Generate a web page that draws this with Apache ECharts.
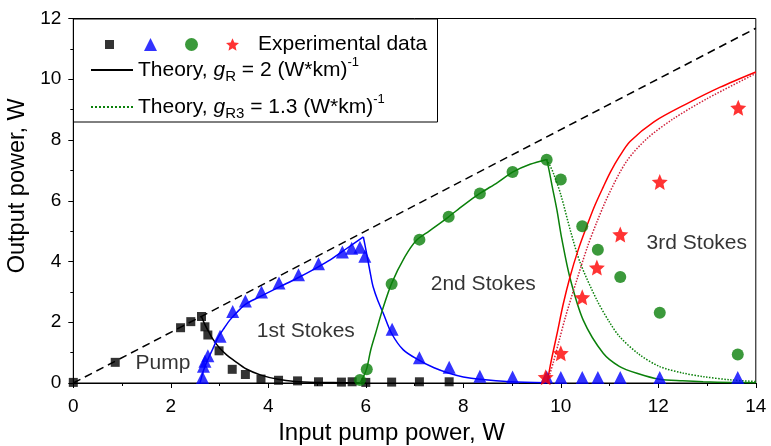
<!DOCTYPE html>
<html>
<head>
<meta charset="utf-8">
<script src="https://cdn.jsdelivr.net/npm/echarts@6/dist/echarts.min.js"></script>
<style>
  html, body { margin: 0; padding: 0; background: #fff; }
  #chart { width: 771px; height: 446px; }
</style>
</head>
<body>
<div id="chart"></div>
<script>
// experimental points
const pumpX = [0.0, 0.86, 2.20, 2.41, 2.63, 2.70, 2.76, 2.99, 3.26, 3.53, 3.85, 4.21, 4.60, 5.03, 5.50, 5.72, 6.00, 6.53, 7.10, 7.71];
const pumpY = [0.02, 0.68, 1.82, 2.02, 2.19, 1.85, 1.58, 1.06, 0.45, 0.28, 0.13, 0.09, 0.07, 0.04, 0.03, 0.04, 0.02, 0.03, 0.04, 0.04];

const s1X = [2.65, 2.67, 2.70, 2.76, 3.01, 3.27, 3.53, 3.86, 4.22, 4.62, 5.03, 5.52, 5.71, 5.88, 5.98, 6.54, 7.10, 7.71, 8.34, 9.01, 9.71, 10.0, 10.44, 10.76, 11.22, 12.03, 13.63];
const s1Y = [0.18, 0.55, 0.72, 0.90, 1.54, 2.35, 2.70, 3.00, 3.29, 3.56, 3.93, 4.31, 4.44, 4.47, 4.17, 1.77, 0.83, 0.52, 0.22, 0.2, 0.2, 0.18, 0.18, 0.18, 0.18, 0.18, 0.18];

const s2X = [5.88, 6.02, 6.53, 7.10, 7.70, 8.34, 9.01, 9.71, 10.0, 10.44, 10.76, 11.22, 12.03, 13.63];
const s2Y = [0.10, 0.45, 3.26, 4.72, 5.47, 6.24, 6.95, 7.35, 6.70, 5.16, 4.39, 3.49, 2.31, 0.94];

const s3X = [9.69, 10.0, 10.44, 10.74, 11.22, 12.03, 13.64];
const s3Y = [0.19, 0.98, 2.82, 3.80, 4.89, 6.62, 9.06];

// theory curves
const pumpThX = [2.63, 2.70, 2.78, 2.86, 3.0, 3.15, 3.3, 3.55, 3.85, 4.2, 4.55, 5.0, 5.5, 6.0];
const pumpThY = [2.19, 1.92, 1.68, 1.45, 1.15, 0.92, 0.74, 0.46, 0.26, 0.12, 0.05, 0.02, 0.01, 0.0];

const s1UpX = [2.60, 2.65, 2.70, 2.78, 2.86, 2.97, 3.1, 3.21, 3.4, 3.56, 3.9, 4.25, 4.58, 5.0, 5.27, 5.6, 5.95];
const s1UpY = [0, 0.3, 0.54, 0.85, 1.12, 1.5, 1.82, 2.07, 2.4, 2.62, 2.9, 3.18, 3.44, 3.8, 4.05, 4.42, 4.81];
const s1DownX = [5.95, 6.0, 6.05, 6.1, 6.15, 6.25, 6.36, 6.53, 6.77, 7.08, 7.4, 7.71, 8.0, 8.34, 8.96, 9.7];
const s1DownY = [4.81, 4.4, 3.98, 3.55, 3.17, 2.7, 2.29, 1.63, 1.09, 0.76, 0.5, 0.32, 0.2, 0.12, 0.04, 0.01];

const s2UpX = [5.88, 5.95, 6.02, 6.1, 6.2, 6.35, 6.53, 6.8, 7.04, 7.3, 7.7, 8.0, 8.34, 8.7, 9.02, 9.37, 9.71];
const s2UpY = [0, 0.2, 0.48, 1.08, 1.63, 2.45, 3.28, 4.15, 4.7, 5.0, 5.47, 5.85, 6.24, 6.6, 6.95, 7.2, 7.36];
const s2DownX = [9.71, 9.76, 9.82, 9.92, 10.02, 10.19, 10.46, 10.87, 11.2, 11.56, 12.03, 12.5, 12.92, 13.5, 14];
const s2DownY = [7.36, 7.0, 6.5, 5.7, 4.75, 3.45, 2.07, 0.98, 0.55, 0.32, 0.12, 0.07, 0.04, 0.02, 0.01];
const s2DotX = [9.71, 9.78, 9.85, 10.0, 10.2, 10.4, 10.74, 11.0, 11.21, 11.6, 12.03, 12.5, 12.92, 13.5, 14];
const s2DotY = [7.36, 7.15, 6.9, 6.2, 5.0, 3.95, 2.73, 2.0, 1.52, 0.95, 0.54, 0.33, 0.21, 0.1, 0.05];

const s3ThX = [9.72, 9.8, 9.92, 10.05, 10.19, 10.35, 10.53, 10.7, 10.87, 11.02, 11.2, 11.42, 11.91, 12.59, 13.27, 14];
const s3ThY = [0, 0.7, 1.6, 2.6, 3.5, 4.35, 5.15, 5.85, 6.45, 6.95, 7.45, 7.95, 8.6, 9.2, 9.74, 10.24];
const s3DotX = [9.72, 9.85, 9.95, 10.1, 10.33, 10.55, 10.74, 10.98, 11.35, 11.77, 12.32, 13.0, 14];
const s3DotY = [0, 0.7, 1.3, 2.2, 3.4, 4.5, 5.3, 6.2, 7.3, 8.05, 8.71, 9.36, 10.19];

// undepleted pump transmission (dashed)
const lossX = [0, 14];
const lossY = [0, 11.68];

// region captions
const regionNames = ["Pump", "1st Stokes", "2nd Stokes", "3rd Stokes"];
const regionX = [1.84, 4.77, 8.41, 12.79];
const regionY = [0.66, 1.69, 3.26, 4.6];

const xTicks = { min: 0, max: 14, interval: 2 };
const yTicks = { min: 0, max: 12, interval: 2 };

const zip = (xs, ys) => xs.map((x, i) => [x, ys[i]]);
const FONT = "Liberation Sans, Arial, sans-serif";
const STAR = "path://M50 0L63.52 31.39L97.55 34.55L71.88 57.11L79.39 90.45L50 73L20.61 90.45L28.12 57.11L2.45 34.55L36.48 31.39Z";
const SMALL_SQUARE = "path://M0 0M13 13M2 2h9v9h-9z";

const BLUE = "#0000ff", GREEN = "#0a800a", RED = "#ff0000";

const chart = echarts.init(document.getElementById("chart"));

const curve = (name, data, color, type) => ({
  name,
  type: "line",
  data,
  symbol: "none",
  smooth: 0.3,
  z: 2,
  lineStyle: { color, width: 1.5, type: type || "solid" },
  itemStyle: { color },
});

const rich = {
  n: { fontSize: 21, fontFamily: FONT, color: "#000", lineHeight: 28 },
  i: { fontSize: 21, fontFamily: FONT, color: "#000", fontStyle: "italic", lineHeight: 28 },
  s: { fontSize: 15, fontFamily: FONT, color: "#000", lineHeight: 15, verticalAlign: "bottom" },
  p: { fontSize: 13, fontFamily: FONT, color: "#000", lineHeight: 18, verticalAlign: "top" },
  t: { fontSize: 21, fontFamily: FONT, color: "#000", padding: [0, 0, 0, 14] },
};

chart.setOption({
  animation: false,
  backgroundColor: "#fff",
  textStyle: { fontFamily: FONT },
  grid: {
    left: 73.3, right: 15.2, top: 18.5, bottom: 63,
    outerBoundsMode: "none",
    show: true, borderColor: "#000", borderWidth: 1,
  },
  xAxis: {
    type: "value",
    ...xTicks,
    name: "Input pump power, W",
    nameLocation: "middle",
    nameGap: 33,
    nameTextStyle: { fontSize: 24, color: "#000", fontFamily: FONT, padding: [0, 46, 0, 0] },
    axisLine: { lineStyle: { color: "#000", width: 1 } },
    axisTick: { inside: false, length: 5, lineStyle: { color: "#000" } },
    minorTick: { show: true, splitNumber: 2, length: 3, lineStyle: { color: "#000" } },
    splitLine: { show: false },
    axisLabel: { fontSize: 19, color: "#000", margin: 14 },
  },
  yAxis: {
    type: "value",
    ...yTicks,
    name: "Output power, W",
    nameLocation: "middle",
    nameGap: 30,
    nameTextStyle: { fontSize: 23.5, color: "#000", fontFamily: FONT, padding: [0, 0, 0, 30] },
    axisLine: { show: true, lineStyle: { color: "#000", width: 1 } },
    axisTick: { show: true, inside: false, length: 5, lineStyle: { color: "#000" } },
    minorTick: { show: true, splitNumber: 2, length: 3, lineStyle: { color: "#000" } },
    splitLine: { show: false },
    axisLabel: { fontSize: 19, color: "#000", margin: 12 },
  },
  graphic: [
    {
      type: "rect",
      left: 73,
      top: 18.5,
      z: 3,
      shape: { width: 364, height: 103 },
      style: { fill: "#fff", stroke: "#000", lineWidth: 1 },
    },
  ],
  legend: [
    {
      data: [
        { name: "pump", icon: SMALL_SQUARE },
        { name: "stokes1", icon: "triangle" },
        { name: "stokes2", icon: "circle" },
        { name: "stokes3", icon: STAR },
      ],
      left: 103,
      top: 34,
      padding: 0,
      itemWidth: 13,
      itemHeight: 13,
      itemGap: 28,
      selectedMode: false,
      z: 5,
      formatter: (n) => (n === "stokes3" ? "{t|Experimental data}" : ""),
      textStyle: { rich },
    },
    {
      data: ["theory2", "theory13"],
      orient: "vertical",
      left: 90,
      top: 56,
      padding: 0,
      itemWidth: 42,
      itemHeight: 14,
      itemGap: 9,
      selectedMode: false,
      z: 5,
      itemStyle: { opacity: 0 },
      formatter: (n) =>
        n === "theory2"
          ? "{n|Theory, }{i|g}{s|R}{n| = 2 (W*km)}{p|-1}"
          : "{n|Theory, }{i|g}{s|R3}{n| = 1.3 (W*km)}{p|-1}",
      textStyle: { rich },
    },
  ],
  series: [
    {
      name: "loss",
      type: "line",
      data: zip(lossX, lossY),
      symbol: "none",
      z: 1,
      lineStyle: { color: "#000", width: 1.5, type: [8, 5] },
    },
    curve("theory2", zip(pumpThX, pumpThY), "#000"),
    curve("s1up", zip(s1UpX, s1UpY), BLUE),
    curve("s1down", zip(s1DownX, s1DownY), BLUE),
    curve("s2up", zip(s2UpX, s2UpY), GREEN),
    curve("s2down", zip(s2DownX, s2DownY), GREEN),
    curve("theory13", zip(s2DotX, s2DotY), GREEN, "dotted"),
    curve("s3th", zip(s3ThX, s3ThY), RED),
    curve("s3dot", zip(s3DotX, s3DotY), "#d0203a", "dotted"),
    {
      name: "pump",
      type: "scatter",
      data: zip(pumpX, pumpY),
      symbol: "rect",
      symbolSize: 9,
      z: 4,
      itemStyle: { color: "#000" },
    },
    {
      name: "stokes1",
      type: "scatter",
      data: zip(s1X, s1Y),
      symbol: "triangle",
      symbolSize: 13,
      z: 4,
      itemStyle: { color: BLUE },
    },
    {
      name: "stokes2",
      type: "scatter",
      data: zip(s2X, s2Y),
      symbol: "circle",
      symbolSize: 12,
      z: 4,
      itemStyle: { color: GREEN },
    },
    {
      name: "stokes3",
      type: "scatter",
      data: zip(s3X, s3Y),
      symbol: STAR,
      symbolSize: 16,
      z: 4,
      itemStyle: { color: RED },
    },
    {
      name: "regions",
      type: "scatter",
      data: regionNames.map((name, i) => ({ name, value: [regionX[i], regionY[i]] })),
      symbolSize: 0,
      silent: true,
      z: 4,
      label: { show: true, position: "inside", formatter: "{b}", fontSize: 21, color: "#000", fontFamily: FONT },
    },
  ],
});
</script>
</body>
</html>
